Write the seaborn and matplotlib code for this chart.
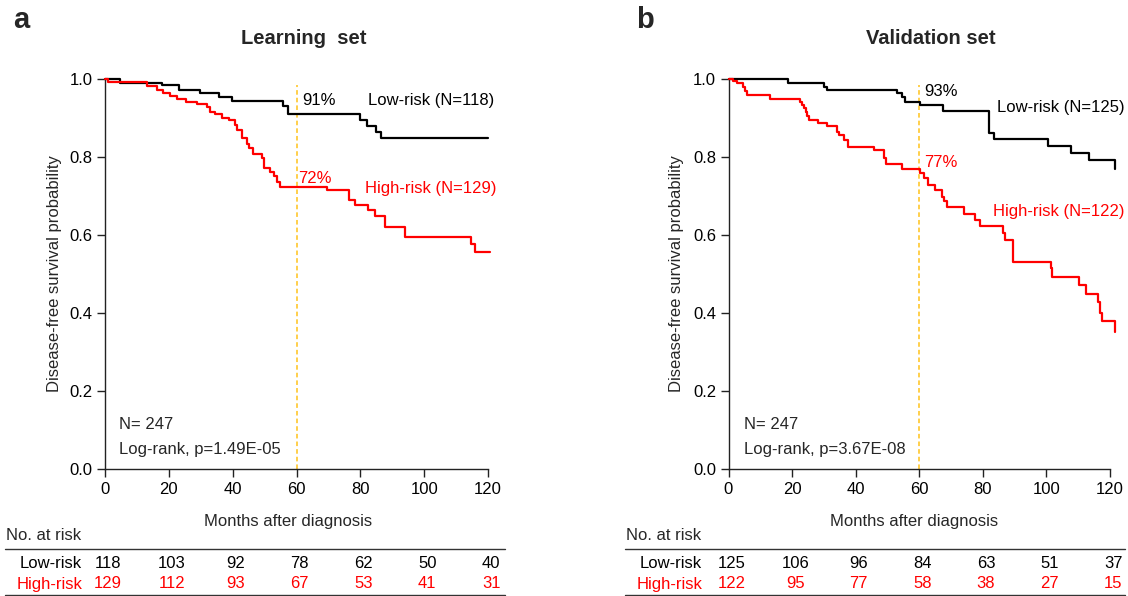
import matplotlib
matplotlib.use("Agg")
import matplotlib.pyplot as plt
from matplotlib.lines import Line2D
from matplotlib.transforms import blended_transform_factory
import seaborn as sns
import pandas as pd

# ---------------- data ----------------
# Panel a: Learning set
a_low_t = [0, 4.7, 18.0, 23.3, 29.8, 35.8, 39.7, 55.7, 57.4, 80.0, 82.0, 85.0, 86.5, 120.0]
a_low_s = [1.0, 0.991, 0.984, 0.973, 0.963, 0.953, 0.943, 0.931, 0.910, 0.895, 0.880, 0.865, 0.848, 0.848]

a_high_t = [0, 0.8, 13.3, 16.2, 18.2, 20.4, 22.5, 25.4, 28.7, 31.9, 32.9, 34.5, 36.6, 38.7, 40.8,
            41.3, 42.8, 44.4, 45.2, 46.5, 49.3, 49.8, 51.7, 52.8, 53.8, 54.9, 69.5, 76.3, 78.4,
            82.5, 84.6, 87.8, 94.0, 114.6, 116.0, 120.5]
a_high_s = [1.0, 0.993, 0.982, 0.973, 0.965, 0.957, 0.950, 0.942, 0.935, 0.927, 0.916, 0.910, 0.901,
            0.894, 0.882, 0.868, 0.848, 0.833, 0.822, 0.807, 0.797, 0.771, 0.762, 0.751, 0.737,
            0.722, 0.715, 0.690, 0.677, 0.664, 0.650, 0.620, 0.596, 0.577, 0.557, 0.557]

# Panel b: Validation set
b_low_t = [0, 18.8, 29.9, 30.9, 53.0, 54.6, 55.6, 60.1, 67.5, 81.8, 83.6, 100.4, 107.8, 113.5, 121.6, 121.7]
b_low_s = [1.0, 0.991, 0.980, 0.972, 0.963, 0.955, 0.942, 0.933, 0.918, 0.861, 0.846, 0.828, 0.811,
           0.792, 0.768, 0.768]

b_high_t = [0, 1.5, 2.6, 4.5, 5.2, 5.7, 13.1, 22.5, 23.0, 23.8, 24.4, 24.8, 25.4, 28.3, 30.9, 34.1,
            34.9, 36.2, 37.5, 45.8, 48.8, 49.6, 54.6, 60.1, 61.4, 62.6, 65.0, 67.1, 67.9, 68.7, 74.0,
            77.6, 79.0, 86.4, 87.1, 89.5, 101.5, 101.9, 110.4, 112.3, 116.3, 117.0, 117.5, 121.5, 121.6]
b_high_s = [1.0, 0.995, 0.989, 0.980, 0.970, 0.960, 0.950, 0.942, 0.933, 0.925, 0.916, 0.906, 0.895,
            0.886, 0.880, 0.865, 0.856, 0.844, 0.826, 0.818, 0.797, 0.781, 0.769, 0.758, 0.745, 0.728,
            0.715, 0.698, 0.687, 0.671, 0.654, 0.638, 0.624, 0.606, 0.587, 0.532, 0.515, 0.493, 0.472,
            0.449, 0.429, 0.399, 0.380, 0.352, 0.352]

risk_times = [0, 20, 40, 60, 80, 100, 120]
a_risk_low = [118, 103, 92, 78, 62, 50, 40]
a_risk_high = [129, 112, 93, 67, 53, 41, 31]
b_risk_low = [125, 106, 96, 84, 63, 51, 37]
b_risk_high = [122, 95, 77, 58, 38, 27, 15]

titles = ["Learning  set", "Validation set"]
panel_letters = ["a", "b"]
pct_low = ["91%", "93%"]
pct_high = ["72%", "77%"]
lab_low = ["Low-risk (N=118)", "Low-risk (N=125)"]
lab_high = ["High-risk (N=129)", "High-risk (N=122)"]
pvals = ["Log-rank, p=1.49E-05", "Log-rank, p=3.67E-08"]

# ---------------- style ----------------
sns.set_theme(style="ticks")
plt.rcParams["font.family"] = ["Liberation Sans", "DejaVu Sans"]
plt.rcParams["axes.linewidth"] = 1.0
plt.rcParams["xtick.major.size"] = 6
plt.rcParams["ytick.major.size"] = 6
plt.rcParams["xtick.major.width"] = 1.0
plt.rcParams["ytick.major.width"] = 1.0

RED = "#FF0000"
BLACK = "#000000"
GOLD = "#FFC21A"
FS = 12

W, H = 1128, 596
fig = plt.figure(figsize=(W / 100, H / 100), dpi=100)

def fx(px):
    return px / W

def fy(py):
    return 1 - py / H

axes_px = [(105, 383), (728.5, 381.5)]
panels = [
    (a_low_t, a_low_s, a_high_t, a_high_s, a_risk_low, a_risk_high),
    (b_low_t, b_low_s, b_high_t, b_high_s, b_risk_low, b_risk_high),
]

# annotation positions (data coords) per panel
ann = [
    dict(pl=(61.8, 0.946), ll=(82.4, 0.944), ph=(60.5, 0.746), lh=(81.5, 0.72), nx=4.4),
    dict(pl=(61.6, 0.967), ll=(84.3, 0.928), ph=(61.6, 0.785), lh=(83.3, 0.659), nx=4.9),
]
ylab_x = [62, 684]
xlab_cx = [288, 914]
rowlab_x = [82, 702]
table_x = [(5, 505), (625, 1125)]
letter_pos = [(21, 20), (645, 20)]
title_cx = [304, 931]

for i, (left, width) in enumerate(axes_px):
    lt, ls, ht, hs, rl, rh = panels[i]
    ax = fig.add_axes([fx(left), fy(469), fx(width), 390 / H])
    df = pd.DataFrame({
        "time": list(lt) + list(ht),
        "surv": list(ls) + list(hs),
        "group": ["Low-risk"] * len(lt) + ["High-risk"] * len(ht),
    })
    ax.axvline(60, ymin=0, ymax=0.985, color=GOLD, lw=1.1, ls=(0, (3, 2)), zorder=1)
    sns.lineplot(data=df, x="time", y="surv", hue="group",
                 palette={"Low-risk": BLACK, "High-risk": RED},
                 estimator=None, drawstyle="steps-post", linewidth=1.6,
                 legend=False, ax=ax, clip_on=False, zorder=3)
    ax.set_xlim(0, 120)
    ax.set_ylim(0, 1.0)
    ax.set_xticks(risk_times)
    ax.set_yticks([0.0, 0.2, 0.4, 0.6, 0.8, 1.0])
    ax.set_yticklabels([f"{v:.1f}" for v in [0.0, 0.2, 0.4, 0.6, 0.8, 1.0]])
    ax.tick_params(labelsize=FS, colors="#222222", labelcolor="black", pad=3)
    for sp in ["top", "right"]:
        ax.spines[sp].set_visible(False)
    for sp in ["left", "bottom"]:
        ax.spines[sp].set_color("#222222")

    ax.set_ylabel("Disease-free survival probability", fontsize=FS)
    ax.yaxis.set_label_coords((ylab_x[i] - left) / width, 0.5)
    ax.set_xlabel("Months after diagnosis", fontsize=FS)
    ax.xaxis.set_label_coords((xlab_cx[i] - left) / width, (469 - 514) / 390)

    a = ann[i]
    ax.text(*a["pl"], pct_low[i], color=BLACK, fontsize=FS, ha="left", va="center")
    ax.text(*a["ll"], lab_low[i], color=BLACK, fontsize=FS, ha="left", va="center")
    ax.text(*a["ph"], pct_high[i], color=RED, fontsize=FS, ha="left", va="center")
    ax.text(*a["lh"], lab_high[i], color=RED, fontsize=FS, ha="left", va="center")
    ax.text(a["nx"], 0.115, "N= 247", fontsize=FS, ha="left", va="center")
    ax.text(a["nx"], 0.051, pvals[i], fontsize=FS, ha="left", va="center")

    # title and panel letter
    fig.text(fx(title_cx[i]), fy(38), titles[i], fontsize=14.5, fontweight="bold",
             ha="center", va="center")
    fig.text(fx(letter_pos[i][0]), fy(letter_pos[i][1]), panel_letters[i], fontsize=21,
             fontweight="bold", ha="center", va="center")

    # risk table
    tr = blended_transform_factory(ax.transData, fig.transFigure)
    x0, x1 = table_x[i]
    fig.text(fx(x0 + 1), fy(535), "No. at risk", fontsize=FS, ha="left", va="center")
    for yy in [548.5, 594.5]:
        fig.add_artist(Line2D([fx(x0), fx(x1)], [fy(yy), fy(yy)], transform=fig.transFigure,
                              color="#333333", lw=1.0))
    fig.text(fx(rowlab_x[i]), fy(563), "Low-risk", fontsize=FS, ha="right", va="center", color=BLACK)
    fig.text(fx(rowlab_x[i]), fy(584), "High-risk", fontsize=FS, ha="right", va="center", color=RED)
    for t, nl, nh in zip(risk_times, rl, rh):
        ax.text(t + 1, fy(563), str(nl), transform=tr, fontsize=FS, ha="center", va="center",
                color=BLACK, clip_on=False)
        ax.text(t + 1, fy(584), str(nh), transform=tr, fontsize=FS, ha="center", va="center",
                color=RED, clip_on=False)

fig.savefig("out.png", dpi=100)
